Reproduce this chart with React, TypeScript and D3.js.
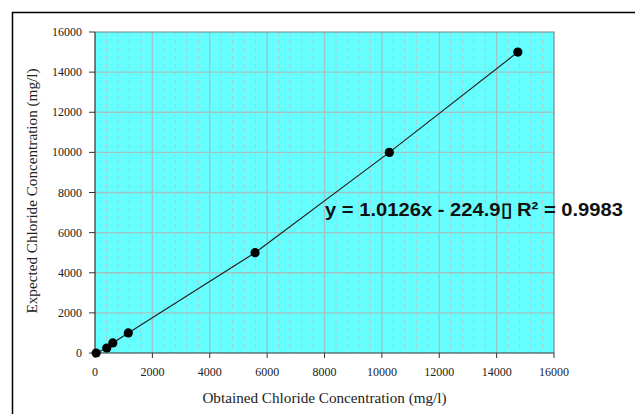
import React from "react";
import * as d3 from "d3";

const W = 635;
const H = 414;
const margin = { top: 32, right: 81, bottom: 61, left: 95 };

// obtained (x) vs expected (y) chloride, mg/l
const obtained = [40, 410, 620, 1160, 5580, 10260, 14740];
const expected = [0, 250, 500, 1000, 5000, 10000, 15000];
const majorTicks = [0, 2000, 4000, 6000, 8000, 10000, 12000, 14000, 16000];
const minorTicks = d3.range(400, 16000, 400).filter((v) => v % 2000 !== 0);

const equationLabel = "y = 1.0126x - 224.9\u25AF R\u00B2 = 0.9983";
const xTitle = "Obtained Chloride Concentration (mg/l)";
const yTitle = "Expected  Chloride Concentration (mg/l)";

const serif = "'Liberation Serif', 'Times New Roman', serif";

export default function App() {
  const xScale = d3
    .scaleLinear()
    .domain([0, 16000])
    .range([margin.left, W - margin.right]);
  const yScale = d3
    .scaleLinear()
    .domain([0, 16000])
    .range([H - margin.bottom, margin.top]);

  const points = obtained.map((x, i) => ({ x, y: expected[i] }));
  const line = d3
    .line<{ x: number; y: number }>()
    .x((d) => xScale(d.x))
    .y((d) => yScale(d.y));

  const x0 = xScale(0);
  const x1 = xScale(16000);
  const y0 = yScale(0);
  const y1 = yScale(16000);

  return (
    <svg
      width={W}
      height={H}
      style={{ position: "absolute", left: 0, top: 0 }}
    >
      <rect width={W} height={H} fill="#fff" />
      {/* outer frame */}
      <path d={`M12.5,${H} V12.5 H${W}`} fill="none" stroke="#000" strokeWidth={1.5} />

      {/* plot area */}
      <rect x={x0} y={y1} width={x1 - x0} height={y0 - y1} fill="#66ffff" />

      {/* minor vertical grid */}
      {minorTicks.map((v) => (
        <line
          key={"mv" + v}
          x1={xScale(v)}
          x2={xScale(v)}
          y1={y1}
          y2={y0}
          stroke="#a3d4d4"
          strokeWidth={1.2}
          strokeDasharray="5,3"
        />
      ))}
      {/* major grid */}
      {majorTicks.slice(1, -1).map((v) => (
        <line
          key={"gv" + v}
          x1={xScale(v)}
          x2={xScale(v)}
          y1={y1}
          y2={y0}
          stroke="#9fc4c4"
          strokeWidth={1.4}
        />
      ))}
      {majorTicks.slice(1, -1).map((v) => (
        <line
          key={"gh" + v}
          x1={x0}
          x2={x1}
          y1={yScale(v)}
          y2={yScale(v)}
          stroke="#9fc4c4"
          strokeWidth={1.4}
        />
      ))}

      {/* frame of plot area */}
      <path d={`M${x0},${y1} H${x1} V${y0}`} fill="none" stroke="#6f8a8a" strokeWidth={1.2} />
      <path d={`M${x0},${y1} V${y0} H${x1}`} fill="none" stroke="#333" strokeWidth={1.2} />

      {/* axis ticks */}
      {majorTicks.map((v) => (
        <g key={"t" + v}>
          <line x1={xScale(v)} x2={xScale(v)} y1={y0} y2={y0 + 5} stroke="#333" />
          <text
            x={xScale(v)}
            y={y0 + 23}
            textAnchor="middle"
            fontFamily={serif}
            fontSize={12}
            fill="#222"
          >
            {v}
          </text>
          <line x1={x0 - 6} x2={x0} y1={yScale(v)} y2={yScale(v)} stroke="#333" />
          <text
            x={x0 - 13}
            y={yScale(v) + 4}
            textAnchor="end"
            fontFamily={serif}
            fontSize={12}
            fill="#222"
          >
            {v}
          </text>
        </g>
      ))}

      {/* series */}
      <path d={line(points) || ""} fill="none" stroke="#222" strokeWidth={1.2} />
      {points.map((p, i) => (
        <circle key={i} cx={xScale(p.x)} cy={yScale(p.y)} r={4.6} fill="#000" />
      ))}

      {/* equation label */}
      <text
        x={325}
        y={216}
        fontFamily="'Liberation Sans', Arial, sans-serif"
        fontWeight="bold"
        fontSize={18.5}
        textLength={298}
        lengthAdjust="spacingAndGlyphs"
        fill="#111"
      >
        {equationLabel}
      </text>

      {/* axis titles */}
      <text
        x={(x0 + x1) / 2}
        y={403}
        textAnchor="middle"
        fontFamily={serif}
        fontSize={15.2}
        fill="#222"
      >
        {xTitle}
      </text>
      <text
        transform={`translate(37,191) rotate(-90)`}
        textAnchor="middle"
        fontFamily={serif}
        fontSize={15.2}
        fill="#222"
      >
        {yTitle}
      </text>
    </svg>
  );
}
